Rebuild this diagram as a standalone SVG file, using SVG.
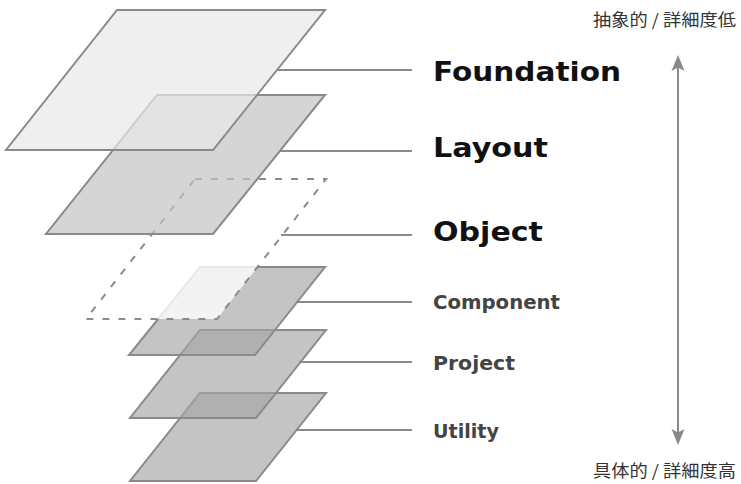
<svg xmlns="http://www.w3.org/2000/svg" width="741" height="484" viewBox="0 0 741 484">
<style>
.plane{stroke:#8a8a8a;stroke-width:2;stroke-linejoin:miter}
.light{fill:#e8e8e8;fill-opacity:0.7}
.mid{fill:#c3c3c3;fill-opacity:0.7}
.dark{fill:#a5a5a5;fill-opacity:0.66}
.dash{fill:#ffffff;fill-opacity:0.8;stroke-dasharray:7 9}
.lead{stroke:#8a8a8a;stroke-width:2;fill:none}
.big{font-family:"DejaVu Sans","Liberation Sans",sans-serif;font-weight:bold;font-size:26px;fill:#111}
.small{font-family:"DejaVu Sans","Liberation Sans",sans-serif;font-weight:bold;font-size:19px;fill:#444}
.jp{font-family:"Noto Sans CJK JP","Noto Sans",sans-serif;font-size:16.5px;fill:#333}
</style>
<rect width="741" height="484" fill="#ffffff"/>
<g id="utility">
<polygon class="plane dark" points="200,393 326,393 256,481 130,481"/>
<text class="small" x="433" y="438" textLength="66" lengthAdjust="spacingAndGlyphs">Utility</text>
</g>
<g id="project">
<polygon class="plane dark" points="200,330 326,330 256,418 130,418"/>
<text class="small" x="433" y="370" textLength="82" lengthAdjust="spacingAndGlyphs">Project</text>
</g>
<g id="component">
<polygon class="plane dark" points="200,267 325,267 255,355 129,355"/>
<text class="small" x="433" y="309" textLength="127" lengthAdjust="spacingAndGlyphs">Component</text>
</g>
<g id="object">
<polygon class="plane dash" points="195,179 326,179 217,319 86,319"/>
<text class="big" x="433" y="241" textLength="110" lengthAdjust="spacingAndGlyphs">Object</text>
</g>
<g id="layout">
<polygon class="plane mid" points="157,95 325,95 213,234 46,234"/>
<text class="big" x="433" y="157" textLength="115" lengthAdjust="spacingAndGlyphs">Layout</text>
</g>
<g id="foundation">
<polygon class="plane light" points="117,10 325,10 213,150 6,150"/>
<text class="big" x="433" y="81" textLength="188" lengthAdjust="spacingAndGlyphs">Foundation</text>
</g>
<g id="connectors">
<line class="lead" x1="278" y1="70" x2="412" y2="70"/>
<line class="lead" x1="280" y1="151" x2="412" y2="151"/>
<line class="lead" x1="281" y1="235" x2="412" y2="235"/>
<line class="lead" x1="297" y1="302" x2="412" y2="302"/>
<line class="lead" x1="299" y1="362" x2="412" y2="362"/>
<line class="lead" x1="296" y1="430" x2="412" y2="430"/>
<line x1="678" y1="66" x2="678" y2="434" stroke="#888" stroke-width="2"/>
<polygon points="678,55 684.5,71 678,67.5 671.5,71" fill="#888"/>
<polygon points="678,445 684.5,429 678,432.5 671.5,429" fill="#888"/>
</g>
<g id="labels">
<text class="jp" x="593" y="26" textLength="143" lengthAdjust="spacingAndGlyphs">抽象的 / 詳細度低</text>
<text class="jp" x="593" y="477" textLength="143" lengthAdjust="spacingAndGlyphs">具体的 / 詳細度高</text>
</g>
</svg>
